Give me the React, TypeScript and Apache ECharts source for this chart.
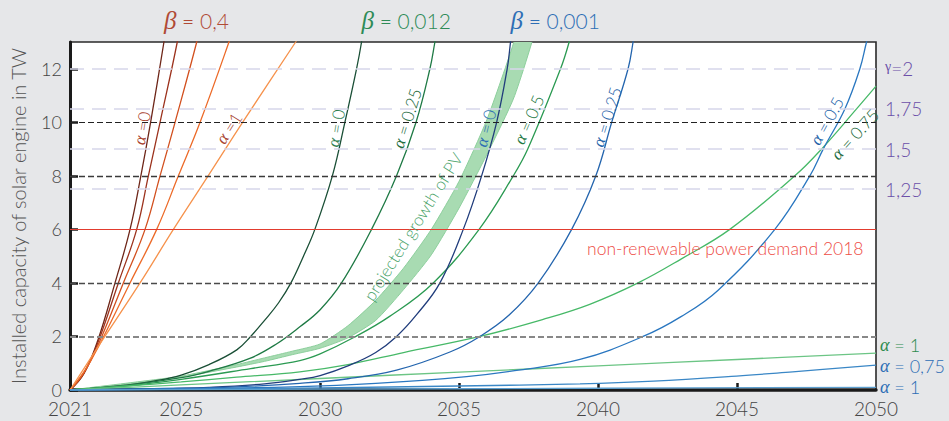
import React, { useEffect, useRef } from "react";
import * as echarts from "echarts";

// ---------------- data ----------------
const X_MIN = 2021;
const X_MAX = 2050;
const Y_MAX = 13;
const X_LABEL_YEARS = [2021, 2025, 2030, 2035, 2040, 2045, 2050];
const X_TICK_YEARS = [2030, 2035, 2040, 2045];
const Y_TICK_VALUES = [0, 2, 4, 6, 8, 10, 12];
const GAMMA_VALUES = [7.5, 9, 10.5, 12];
const GAMMA_LABELS = ["1,25", "1,5", "1,75", "γ=2"];
const DEMAND_2018 = 6;
const DARK_GRID = [10, 8];
const GREY_GRID = [4, 2];

// beta = 0.4
const B04_A0 = [[2021, 0], [2021.5, 0.61], [2022, 1.85], [2022.62, 4], [2023.16, 6], [2023.55, 8], [2023.9, 10], [2024.38, 13], [2024.6, 14.5]];
const B04_A25 = [[2021, 0], [2021.5, 0.63], [2022, 1.76], [2022.74, 4], [2023.4, 6], [2023.82, 8], [2024.24, 10], [2024.86, 13], [2025.1, 14.5]];
const B04_A50 = [[2021, 0], [2021.5, 0.64], [2022, 1.65], [2022.92, 4], [2023.7, 6], [2024.24, 8], [2024.78, 10], [2025.56, 13], [2025.9, 14.5]];
const B04_A75 = [[2021, 0], [2021.5, 0.68], [2022, 1.57], [2023.16, 4], [2024.12, 6], [2024.9, 8], [2025.68, 10], [2026.72, 13], [2027.2, 14.5]];
const B04_A100 = [[2021, 0], [2022, 1.6], [2023.52, 4], [2024.72, 6], [2025.97, 8], [2027.21, 10], [2029.12, 13], [2030, 14.4]];

// beta = 0.012
const B012_A0 = [[2021, 0], [2022, 0.08], [2023, 0.18], [2024, 0.33], [2025, 0.56], [2026, 0.95], [2027, 1.5], [2027.5, 2], [2028, 2.6], [2028.5, 3.25], [2028.95, 4], [2029.4, 5], [2029.81, 6], [2030.44, 8], [2030.89, 10], [2031.31, 12], [2031.49, 13], [2031.7, 14.5]];
const B012_A25 = [[2021, 0], [2023, 0.17], [2025, 0.46], [2026, 0.7], [2027.47, 1.18], [2028.4, 1.7], [2029.27, 2.36], [2030, 3.0], [2030.77, 4], [2031.85, 6], [2032.75, 8], [2033.45, 10], [2033.95, 12], [2034.13, 13], [2034.4, 14.5]];
const B012_A50 = [[2021, 0], [2023, 0.15], [2025, 0.4], [2027.5, 0.8], [2029.27, 1.1], [2030, 1.35], [2031.19, 1.95], [2032.5, 2.75], [2034.07, 4], [2035.72, 6], [2036.95, 8], [2037.47, 9], [2038.65, 12], [2038.96, 13], [2039.3, 14.4]];
const B012_A75 = [[2021, 0], [2023, 0.15], [2025, 0.3], [2027, 0.48], [2029.27, 0.68], [2031, 0.95], [2033, 1.4], [2035.75, 2], [2038, 2.63], [2039.7, 3.2], [2041.44, 4], [2043, 4.9], [2044.74, 6], [2047.08, 8], [2048.04, 9], [2049.3, 10.5], [2050, 11.35]];
const B012_A100 = [[2021, 0], [2025, 0.19], [2030, 0.43], [2035, 0.67], [2040, 0.9], [2045, 1.14], [2050, 1.38]];

// beta = 0.001
const B001_A0 = [[2021, 0], [2024, 0.04], [2026, 0.1], [2028, 0.23], [2029.27, 0.4], [2030, 0.54], [2031.07, 0.93], [2032, 1.4], [2032.75, 2], [2033.5, 2.85], [2034.31, 4], [2035.15, 6], [2035.81, 8], [2036.35, 10], [2036.73, 12], [2036.85, 13], [2037, 14.3]];
const B001_A25 = [[2021, 0], [2024, 0.05], [2027, 0.12], [2029.27, 0.25], [2031, 0.42], [2032.75, 0.74], [2034.67, 1.42], [2035.75, 2], [2036.8, 2.8], [2037.85, 4], [2039.05, 6], [2039.92, 8], [2040.49, 10], [2041.08, 12], [2041.26, 13], [2041.5, 14.5]];
const B001_A50 = [[2021, 0], [2025, 0.04], [2029, 0.12], [2032, 0.25], [2035.27, 0.5], [2037, 0.72], [2039.35, 1.14], [2041.62, 2], [2043, 2.75], [2044.32, 3.73], [2046.36, 6], [2047.62, 8], [2048.1, 9], [2048.88, 10.5], [2049.42, 12], [2049.66, 13], [2050, 14.3]];
const B001_A75 = [[2021, 0], [2025, 0.03], [2030, 0.08], [2035, 0.15], [2039.35, 0.23], [2042, 0.33], [2044.98, 0.52], [2047, 0.68], [2050, 0.93]];
const B001_A100 = [[2021, 0], [2030, 0.03], [2040, 0.065], [2050, 0.1]];

// projected growth of PV (band)
const PV_YEARS = [2021, 2023, 2025, 2027, 2028, 2029, 2030, 2031, 2032, 2033, 2034, 2035, 2036, 2037, 2038];
const PV_UPPER = [0, 0.25, 0.52, 0.95, 1.2, 1.45, 1.72, 2.4, 3.35, 4.55, 6.0, 7.8, 10.1, 13.1, 17];
const PV_LOWER = [0, 0.22, 0.48, 0.86, 1.07, 1.32, 1.56, 1.95, 2.6, 3.75, 5.05, 6.8, 8.8, 11.0, 14.5];

// ---------------- styling ----------------
const FONT = "Lato, 'Open Sans', sans-serif";
const SERIF = "'Liberation Serif', 'DejaVu Serif', serif";

const CURVES = [
  { data: B04_A0, color: "#6e2618" },
  { data: B04_A25, color: "#9c321d" },
  { data: B04_A50, color: "#d2501f" },
  { data: B04_A75, color: "#ec6a28" },
  { data: B04_A100, color: "#f6924c" },
  { data: B012_A0, color: "#1a4f36" },
  { data: B012_A25, color: "#1f7a45" },
  { data: B012_A50, color: "#2b9a52" },
  { data: B012_A75, color: "#47b968" },
  { data: B012_A100, color: "#6cc585" },
  { data: B001_A0, color: "#213d7c" },
  { data: B001_A25, color: "#2465ae" },
  { data: B001_A50, color: "#2a77c0" },
  { data: B001_A75, color: "#3a87c6" },
  { data: B001_A100, color: "#5c9fcf" },
];

// annotations placed in data coordinates: [year, value, text, colour, rotation in degrees]
const CURVE_NOTES: [number, number, string, string, number][] = [
  [2023.59, 9.78, " =0", "#a8432e", 81],
  [2026.72, 9.78, " =1", "#a8432e", 58],
  [2030.57, 9.78, " = 0", "#2e7d4f", 81],
  [2033.12, 10.15, " = 0.25", "#1e6b40", 73],
  [2035.96, 9.78, " = 0", "#2d6eb5", 76],
  [2037.51, 10.1, " = 0.5", "#1e7a45", 67],
  [2040.32, 10.2, " = 0.25", "#2563a8", 73],
  [2048.23, 10.05, " = 0.5", "#2563a8", 62],
  [2049.24, 9.55, " = 0.75", "#1e6b40", 48],
];

export default function App() {
  const ref = useRef<HTMLDivElement>(null);

  useEffect(() => {
    if (!ref.current) return;
    const chart = echarts.init(ref.current, undefined, { renderer: "svg" });

    const darkLine = (v: number, color: string, width: number) => ({
      yAxis: v,
      lineStyle: { color, width, type: [6, 3] },
    });

    const gridSeries: any = {
      type: "line",
      data: [[X_MIN, 0]],
      symbol: "none",
      lineStyle: { width: 0 },
      silent: true,
      z: 1,
      markLine: {
        silent: true,
        symbol: ["none", "none"],
        label: { show: false },
        animation: false,
        data: [
          ...GAMMA_VALUES.map((v) => ({ yAxis: v, lineStyle: { color: "#d6d6ea", width: 1.5, type: [14, 8] } })),
          darkLine(DARK_GRID[0], "#222", 1.2),
          darkLine(DARK_GRID[1], "#3a3a3a", 1.4),
          darkLine(GREY_GRID[0], "#4a4a4a", 1.4),
          darkLine(GREY_GRID[1], "#888", 2),
          { yAxis: DEMAND_2018, lineStyle: { color: "#e23b2e", width: 1.2, type: "solid" } },
        ],
      },
    };

    const bandSeries: any = {
      type: "custom",
      clip: true,
      silent: true,
      z: 2,
      data: [[2030, 2]],
      renderItem: (_p: any, api: any) => {
        const up = PV_YEARS.map((x, i) => api.coord([x, PV_UPPER[i]]));
        const lo = PV_YEARS.map((x, i) => api.coord([x, PV_LOWER[i]])).reverse();
        return {
          type: "polygon",
          shape: { points: up.concat(lo), smooth: 0.2 },
          style: { fill: "#a8dbb2", stroke: "#8ccf9c", lineWidth: 1 },
        };
      },
    };

    const lineSeries = CURVES.map((c) => ({
      type: "line",
      data: c.data,
      symbol: "none",
      smooth: 0.4,
      clip: true,
      silent: true,
      z: 3,
      lineStyle: { color: c.color, width: 1.3 },
    }));

    chart.setOption({
      animation: false,
      backgroundColor: "#e6e7e9",
      grid: {
        left: 70,
        right: 73,
        top: 42,
        bottom: 31,
        show: true,
        backgroundColor: "#ffffff",
        borderColor: "#2a2a2a",
        borderWidth: 1.6,
      },
      xAxis: {
        type: "value",
        min: X_MIN,
        max: X_MAX,
        axisLine: { show: true, onZero: false, lineStyle: { color: "#1a1a1a", width: 3.5 } },
        axisTick: {
          show: true,
          inside: true,
          length: 7,
          customValues: X_TICK_YEARS,
          lineStyle: { color: "#1a1a1a", width: 2.5 },
        },
        axisLabel: {
          customValues: X_LABEL_YEARS,
          fontFamily: FONT,
          fontWeight: 300,
          fontSize: 19,
          lineHeight: 17,
          color: "#444",
          margin: 10,
          formatter: (v: number) => String(v),
        },
        splitLine: { show: false },
      },
      yAxis: [
        {
          type: "value",
          min: 0,
          max: Y_MAX,
          name: "Installed capacity of solar engine in TW",
          nameLocation: "middle",
          nameGap: 42,
          nameTextStyle: { fontFamily: FONT, fontWeight: 300, fontSize: 20, color: "#555" },
          axisLine: { show: true, onZero: false, lineStyle: { color: "#1a1a1a", width: 3 } },
          axisTick: {
            show: true,
            inside: true,
            length: 8,
            customValues: Y_TICK_VALUES,
            lineStyle: { color: "#1a1a1a", width: 2.5 },
          },
          axisLabel: {
            customValues: Y_TICK_VALUES,
            fontFamily: FONT,
            fontWeight: 300,
            fontSize: 18,
            lineHeight: 14,
            color: "#444",
            margin: 8,
          },
          splitLine: { show: false },
        },
        {
          type: "value",
          min: 0,
          max: Y_MAX,
          position: "right",
          axisLine: { show: false },
          axisTick: { show: false },
          splitLine: { show: false },
          axisLabel: {
            customValues: GAMMA_VALUES,
            margin: 9,
            formatter: (v: number) => {
              const i = GAMMA_VALUES.indexOf(v);
              const t = i >= 0 ? GAMMA_LABELS[i] : "";
              return t.startsWith("γ") ? "{g|γ}{n|" + t.slice(1) + "}" : "{n|" + t + "}";
            },
            rich: {
              g: { fontFamily: SERIF, fontSize: 14, color: "#6b4fa8", verticalAlign: "top" },
              n: { fontFamily: FONT, fontWeight: 300, fontSize: 19, color: "#6b4fa8" },
            },
          },
        },
      ],
      series: [gridSeries, bandSeries, ...lineSeries],
    });

    const px = (x: number, y: number) => chart.convertToPixel({ gridIndex: 0 }, [x, y]) as number[];

    const alphaText = (text: string, color: string, size: number) => ({
      text: "{a|α}{t|" + text + "}",
      rich: {
        a: { fontFamily: SERIF, fontStyle: "italic", fontSize: size, lineHeight: size, fill: color, color },
        t: { fontFamily: FONT, fontWeight: 300, fontSize: size, lineHeight: size, fill: color, color },
      },
    });

    const graphics: any[] = [];
    CURVE_NOTES.forEach(([x, y, t, color, rot]) => {
      const p = px(x, y);
      graphics.push({
        type: "text",
        x: p[0],
        y: p[1],
        z: 20,
        rotation: (rot * Math.PI) / 180,
        silent: true,
        style: {
          ...alphaText(t, color, 17),
          align: "center",
          verticalAlign: "middle",
          textAlign: "center",
          textVerticalAlign: "middle",
        },
      });
    });

    // projected growth of PV
    {
      const p = px(2033.34, 6.1);
      graphics.push({
        type: "text",
        x: p[0],
        y: p[1],
        z: 20,
        rotation: (58 * Math.PI) / 180,
        silent: true,
        style: {
          text: "projected growth of PV",
          fill: "#4aa36a",
          font: "300 17px " + FONT,
          align: "center",
          verticalAlign: "middle",
          textAlign: "center",
          textVerticalAlign: "middle",
        },
      });
    }

    // non-renewable demand label
    {
      const p = px(2049.55, 5.3);
      graphics.push({
        type: "text",
        x: p[0],
        y: p[1],
        z: 20,
        silent: true,
        style: {
          text: "non-renewable power demand 2018",
          fill: "#ee4d46",
          font: "300 17.5px " + FONT,
          align: "right",
          verticalAlign: "middle",
          textAlign: "right",
          textVerticalAlign: "middle",
        },
      });
    }

    // beta headers (left edge aligned to the top of each alpha=0 curve)
    const betaHeads: [number, string, string][] = [
      [2024.38, "0,4", "#b04a35"],
      [2031.49, "0,012", "#2e8b57"],
      [2036.85, "0,001", "#2d6eb5"],
    ];
    betaHeads.forEach(([x, t, color]) => {
      const p = px(x, Y_MAX);
      graphics.push({
        type: "text",
        x: p[0],
        y: 20,
        z: 20,
        silent: true,
        style: {
          text: "{b|β}{t| = " + t + "}",
          rich: {
            b: { fontFamily: SERIF, fontStyle: "italic", fontSize: 25, fill: color, color },
            t: { fontFamily: FONT, fontWeight: 300, fontSize: 21, fill: color, color },
          },
          align: "left",
          verticalAlign: "middle",
          textAlign: "left",
          textVerticalAlign: "middle",
        },
      });
    });

    // right-hand alpha labels for curves ending low at 2050
    const endNotes: [number, string, string][] = [
      [1.68, " = 1", "#2e8b4f"],
      [0.88, " = 0,75", "#2d6eb5"],
      [0.1, " = 1", "#2d6eb5"],
    ];
    endNotes.forEach(([y, t, color]) => {
      const p = px(X_MAX, y);
      graphics.push({
        type: "text",
        x: p[0] + 4,
        y: p[1],
        z: 20,
        silent: true,
        style: {
          ...alphaText(t, color, 18),
          align: "left",
          verticalAlign: "middle",
          textAlign: "left",
          textVerticalAlign: "middle",
        },
      });
    });

    chart.setOption({ graphic: graphics });

    return () => chart.dispose();
  }, []);

  return (
    <div
      ref={ref}
      style={{ position: "fixed", left: 0, top: 0, width: 949, height: 421 }}
    />
  );
}
